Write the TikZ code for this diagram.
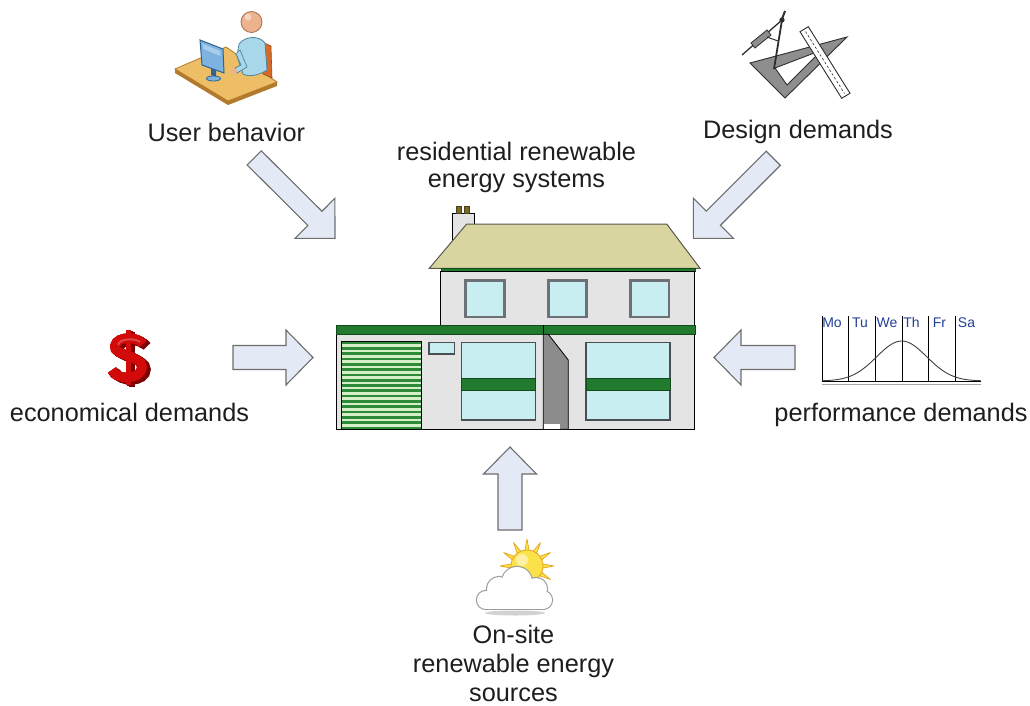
\documentclass[tikz,border=0pt]{standalone}
\usepackage{fontspec}
\setmainfont{Liberation Sans}
\usetikzlibrary{calc}

\definecolor{arrowfill}{HTML}{E3E9F5}
\definecolor{arrowline}{HTML}{6E6E6E}
\definecolor{wall}{HTML}{E4E4E4}
\definecolor{roof}{HTML}{D9D5A0}
\definecolor{roofline}{HTML}{5A5A4A}
\definecolor{trim}{HTML}{217A2E}
\definecolor{glass}{HTML}{C8EEF1}
\definecolor{frame}{HTML}{6B7176}
\definecolor{stripe}{HTML}{2C8A38}
\definecolor{stripelight}{HTML}{D6EFC6}
\definecolor{doorgray}{HTML}{8C8C8C}
\definecolor{pot}{HTML}{7A6A2A}
\definecolor{desktop}{HTML}{EDBE66}
\definecolor{deskedge}{HTML}{B27A2A}
\definecolor{chair}{HTML}{D4692A}
\definecolor{shirt}{HTML}{A9D7EA}
\definecolor{shirtline}{HTML}{4F86A0}
\definecolor{skin}{HTML}{EDB28E}
\definecolor{skinline}{HTML}{A8704E}
\definecolor{screen}{HTML}{7DB3DE}
\definecolor{screenline}{HTML}{2E6392}
\definecolor{tool}{HTML}{8E8E8E}
\definecolor{toolline}{HTML}{2E2E2E}
\definecolor{dollar}{HTML}{D20A0A}
\definecolor{dollardark}{HTML}{7E0000}
\definecolor{sunfill}{HTML}{FBE24A}
\definecolor{sunline}{HTML}{E3A51C}
\definecolor{cloudline}{HTML}{9C9C9C}
\definecolor{daytext}{HTML}{22409A}
\definecolor{labeltext}{HTML}{1E1E1E}

% block arrow: #1 tail, #2 tip, #3 shaft half width, #4 head half width, #5 head length
\newcommand{\blockarrow}[5]{%
  \coordinate (hb) at ($(#2)!#5!(#1)$);
  \draw[barrow] ($(#1)!#3!90:(#2)$) -- ($(hb)!#3!90:(#2)$) -- ($(hb)!#4!90:(#2)$)
    -- (#2) -- ($(hb)!#4!-90:(#2)$) -- ($(hb)!#3!-90:(#2)$) -- ($(#1)!#3!-90:(#2)$) -- cycle;
}
% the dollar symbol drawn as strokes: S curve and vertical bar
\newcommand{\usdshape}[1]{%
  \draw[#1, line width=9.5pt] (143,344) .. controls (139,337) and (117,335) .. (115,346)
    .. controls (113,356) and (142,355) .. (142,367)
    .. controls (142,380) and (116,381) .. (112,370);
  \draw[#1, line width=5pt] (128,330) -- (128,385);
}

\begin{document}
\begin{tikzpicture}[x=1pt,y=-1pt,
  lbl/.style={font=\fontsize{25.3}{28}\selectfont, anchor=base, inner sep=0pt, text=labeltext},
  barrow/.style={fill=arrowfill, draw=arrowline, line width=1.1pt, line join=miter},
  wallbox/.style={fill=wall, draw=black, line width=0.9pt},
  trimbox/.style={fill=trim, draw=trim!60!black, line width=0.6pt},
  upwin/.style={fill=glass, draw=frame, line width=2.4pt},
  bigwin/.style={fill=glass, draw=frame!70!black, line width=1.1pt},
  day/.style={font=\fontsize{14}{14}\selectfont, text=daytext, anchor=base, inner sep=0pt}]

\useasboundingbox (0,0) rectangle (1030,706);
\fill[white] (0,0) rectangle (1030,706);

% ---------------- house ----------------
% chimney
\draw[fill=wall, draw=black, line width=0.8pt] (452.3,213.3) rectangle (474.3,240);
\draw[fill=pot, draw=pot!60!black, line width=0.5pt] (456,206) rectangle (461,213.3);
\draw[fill=pot, draw=pot!60!black, line width=0.5pt] (464,206) rectangle (469,213.3);
% roof
\draw[fill=roof, draw=roofline, line width=1pt] (466.7,224) -- (666.7,224) -- (700,268.3) -- (429.3,268.3) -- cycle;
\draw[trimbox] (441,268.3) rectangle (695,271.5);
% upper storey
\draw[wallbox] (440,271.5) rectangle (694.3,325);
\draw[upwin] (465.5,280.5) rectangle (504.5,317.2);
\draw[upwin] (548.5,280.5) rectangle (586.5,317.2);
\draw[upwin] (630.5,280.5) rectangle (668.8,317.2);
% lower storey
\draw[wallbox] (336,334.3) rectangle (694.3,429.3);
\draw[trimbox] (336,325) rectangle (695.7,334.3);
\draw[black, line width=0.8pt] (543.3,325) -- (543.3,334.3);
% garage door
\fill[stripelight] (341.7,341.7) rectangle (421.7,429.3);
\foreach \i in {0,...,16}
  \fill[stripe] (341.7,{341.7+\i*5.3}) rectangle (421.7,{344.4+\i*5.3});
\draw[black, line width=0.8pt] (341.7,341.7) rectangle (421.7,429.3);
% small window
\draw[bigwin] (429,342.7) rectangle (454.3,354);
% large windows
\draw[bigwin] (461.7,342.7) rectangle (535.7,420);
\draw[trimbox] (461.7,378.3) rectangle (535.7,390.7);
\draw[bigwin] (586,342.7) rectangle (670,420);
\draw[trimbox] (586,378.3) rectangle (670,390.7);
% front door
\draw[fill=doorgray, draw=black, line width=0.8pt] (543.3,334.3) -- (548.3,334.3) -- (568.3,360) -- (568.3,429.3) -- (543.3,429.3) -- cycle;
\fill[white] (544,424) rectangle (560,428.8);

% ---------------- block arrows ----------------
\coordinate (ubTail) at (254.2,157.9);  \coordinate (ubTip) at (335,238.3);
\coordinate (ddTail) at (773.3,158.3);  \coordinate (ddTip) at (693.3,238.3);
\coordinate (ecTail) at (233,357.5);    \coordinate (ecTip) at (313,357.5);
\coordinate (pdTail) at (795,357.5);    \coordinate (pdTip) at (714,357.5);
\coordinate (srTail) at (510,530);      \coordinate (srTip) at (510,447);
\blockarrow{ubTail}{ubTip}{10pt}{28.3pt}{28.3pt}
\blockarrow{ddTail}{ddTip}{10pt}{28.3pt}{28.3pt}
\blockarrow{ecTail}{ecTip}{12pt}{27.5pt}{27pt}
\blockarrow{pdTail}{pdTip}{12pt}{27.5pt}{27pt}
\blockarrow{srTail}{srTip}{12pt}{26.5pt}{27pt}

% ---------------- labels ----------------
\node[lbl] (ub) at (226.3,141) {User behavior};
\node[lbl] (dd) at (798,139) {Design demands};
\node[lbl] (res1) at (516.5,160) {residential renewable};
\node[lbl] (res2) at (516.5,187) {energy systems};
\node[lbl] (ec) at (129.5,421) {economical demands};
\node[lbl] (pd) at (901,421) {performance demands};
\node[lbl] (src1) at (513.5,643) {On-site};
\node[lbl] (src2) at (513.5,672) {renewable energy};
\node[lbl] (src3) at (513.5,701) {sources};

% ---------------- user at desk ----------------
\fill[deskedge] (175,69) -- (228,101) -- (277,82) -- (277,86) -- (228,105) -- (175,73) -- cycle;
\draw[fill=desktop, draw=deskedge, line width=0.8pt] (175,69) -- (226,47) -- (277,82) -- (228,101) -- cycle;
\draw[fill=chair, draw=chair!70!black, line width=0.6pt] (262,42) -- (271,46) -- (272,78) -- (263,74) -- cycle;
\draw[fill=shirt, draw=shirtline, line width=0.8pt] (239,44) .. controls (245,36) and (259,35) .. (265,43) -- (267,70) .. controls (258,76) and (248,77) .. (243,74) -- (237,56) -- cycle;
\draw[fill=shirt, draw=shirtline, line width=0.7pt] (240,50) -- (247,67) -- (237,73) -- (235,68) -- (241,65) -- (236,54) -- cycle;
\fill[skin] (234,71) circle (3);
\draw[fill=skin, draw=skinline, line width=0.8pt] (251.5,22) circle (10.5);
\fill[white, opacity=0.45] (248,17) circle (3.5);
\fill[screenline] (211,66) -- (216,68) -- (216,77) -- (211,75) -- cycle;
\draw[fill=screen, draw=screenline, line width=0.8pt] (213.5,78.5) ellipse (7 and 2.5);
\draw[fill=screen, draw=screenline, line width=1pt] (200,40) -- (223,49) -- (224,73) -- (202,65) -- cycle;
\fill[white, opacity=0.35] (203,44) -- (220,51) -- (220.5,56) -- (203.5,49) -- cycle;

% ---------------- drawing instruments ----------------
\draw[fill=tool, draw=toolline, even odd rule, line width=0.9pt]
  (750,63) -- (847,37) -- (785,98) -- cycle
  (775,68) -- (822,50) -- (787,85) -- cycle;
\draw[fill=white, draw=toolline, line width=0.9pt] (800,31.7) -- (808.3,26.7) -- (850,93.3) -- (841.7,98.3) -- cycle;
\draw[toolline, line width=0.6pt, dash pattern=on 2.5pt off 2pt] (805.5,31.5) -- (844.5,93.5);
\draw[toolline, line width=1.3pt] (782,20) -- (742,55);
\draw[fill=tool, draw=toolline, line width=0.8pt] (751,43) -- (767,30) -- (771,35) -- (755,48) -- cycle;
\draw[toolline, line width=1.8pt] (782,20) -- (774,69);
\draw[toolline, line width=1pt] (767,37) -- (778,41);
\draw[toolline, line width=2pt] (782,19) -- (785,11);
\fill[toolline] (782,20) circle (2.6);

% ---------------- dollar symbol (extruded) ----------------
\foreach \d in {4,3.2,2.4,1.6,0.8}
  \begin{scope}[shift={(\d,{\d*0.6})}]
    \usdshape{dollardark}
  \end{scope}
\usdshape{dollar}
\draw[white, opacity=0.25, line width=2pt] (140,342) .. controls (136,338.5) and (120,337.5) .. (118,345);

% ---------------- weekly load chart ----------------
\foreach \xx in {822,848.7,875.3,902,928.7,955.3}
  \draw[black, line width=0.7pt] (\xx,316) -- (\xx,381.5);
\draw[black, line width=0.9pt] (822,381.5) -- (981,381.5);
\draw[gray!70, line width=1.6pt] (822,384.5) -- (981,384.5);
\draw[black!75, line width=0.9pt] plot[domain=822:981, samples=90, smooth] (\x, {381-40*exp(-((\x-901.7)^2)/1250)});
\node[day] (mo) at (832,327.5) {Mo};
\node[day] (tu) at (860,327.5) {Tu};
\node[day] (we) at (887,327.5) {We};
\node[day] (th) at (911.5,327.5) {Th};
\node[day] (fr) at (939.5,327.5) {Fr};
\node[day] (sa) at (966.5,327.5) {Sa};

% ---------------- sun behind cloud ----------------
\coordinate (sunc) at (527,566);
\foreach \a [evaluate=\a as \al using \a-10, evaluate=\a as \ar using \a+10] in {0,30,...,330}
  \draw[fill=sunfill, draw=sunline, line width=0.7pt, line join=round]
    ($(sunc)+(\al:14)$) -- ($(sunc)+(\a:27)$) -- ($(sunc)+(\ar:14)$) -- cycle;
\draw[fill=sunfill, draw=sunline, line width=0.8pt] (sunc) circle (16);
\fill[white, opacity=0.5] (522,560) circle (6);
\fill[gray!35] (515,613) ellipse (30 and 2.5);
\begin{scope}[cloudline, line width=2.2pt]
  \draw (486,600) circle (9);
  \draw (543,600) circle (9);
  \draw (499,589) circle (12);
  \draw (517,582) circle (15);
  \draw (536,589) circle (11);
  \draw (486,591) rectangle (543,609);
\end{scope}
\begin{scope}
  \fill[white] (486,600) circle (9);
  \fill[white] (543,600) circle (9);
  \fill[white] (499,589) circle (12);
  \fill[white] (517,582) circle (15);
  \fill[white] (536,589) circle (11);
  \fill[white] (486,591) rectangle (543,609);
\end{scope}
\end{tikzpicture}
\end{document}
